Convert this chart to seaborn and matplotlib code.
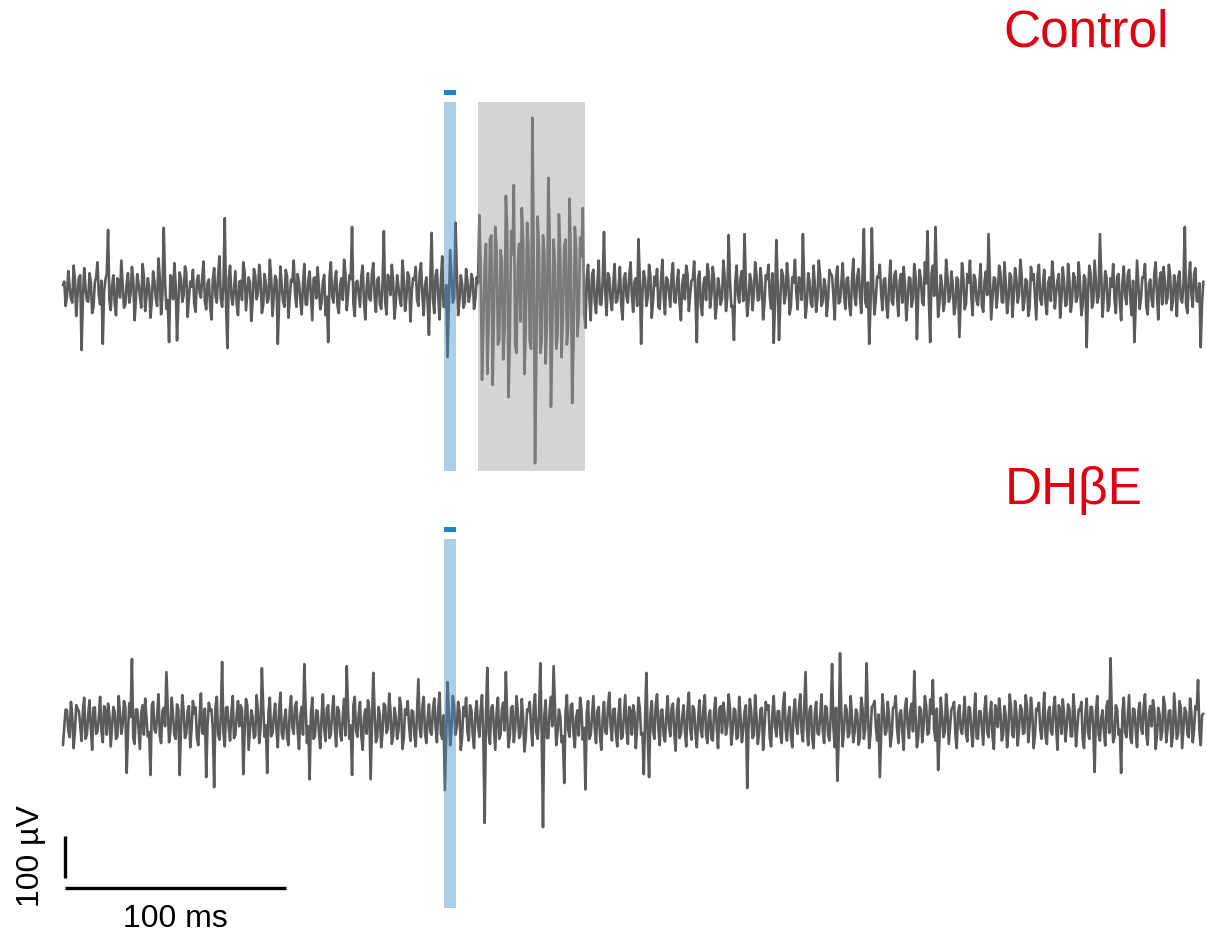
import numpy as np
import pandas as pd
import matplotlib
matplotlib.use("Agg")
import matplotlib.pyplot as plt
from matplotlib.patches import Rectangle
import seaborn as sns

# ---------------- data (µV) ----------------
# main samples (~every 1.2 ms over 516 ms)
control_uv = [
    12, -38, 45, -20, 58, -62, 30, -143, 52, -25, 40, -55, 18, 66, -34, -128, 25, 143, -48, 35,
    -60, 22, 70, -42, 15, -30, 55, -72, 38, -15, 62, -50, 28, -66, 44, -20, 75, -58, 148, -45,
    -124, 30, 64, -120, 42, -28, 56, -64, 20, 48, -52, 35, -18, 68, -46, 25, -70, 52, -30, 80,
    -40, 171, -138, 58, -35, 45, -60, 22, 66, -48, 30, -74, 50, -22, 60, -55, 38, -30, 72, -62,
    34, -128, 56, -28, 48, -66, 25, 70, -40, 18, -58, 62, -35, 44, -72, 30, 54, -46, 20, -60,
    -124, 66, -30, 45, -55, 28, 72, -48, 35, 150, -62, 22, -40, 58, -70, 40, -25, 64, -52, 30,
    -45, 140, -58, 26, 60, -68, 35, -22, 70, -50, 42, -75, 28, 55, -38, 64, -60, 30, -107, 136,
    -55, 48, -70, 80, -40, -160, 95, -30, 160, -60, 35, -42, 50, -28, 38, -45, 30, 178, -214, 60,
    -200, 120, -226, 150, -130, 95, -165, 224, -255, 140, 250, -150, 110, 195, -200, 160, -120, 410, -412, 175,
    -150, 130, -175, 267, -278, 120, -140, 180, -160, 105, -130, 217, -269, 150, -110, 125, 195, -90, 60, -72,
    48, -55, 70, -35, 138, -60, 30, -48, 62, -25, 55, -70, 40, -30, 66, -52, 28, 121, -128, 45,
    -38, 60, -66, 32, 50, -45, 72, -58, 25, -40, 64, -30, 48, -72, 36, 58, -50, 22, 68, -124,
    44, -60, 30, 62, -42, 55, -68, 28, -35, 70, -50, 131, -40, -119, 58, -30, 45, 133, -62, 38,
    -48, 66, -25, 52, -70, 35, 60, -44, -126, 119, -119, 48, -32, 64, -58, 30, 72, -46, 22, 133,
    -66, 40, -30, 58, -52, 70, -38, 26, -62, 48, 34, -70, 56, -28, 64, -45, 30, -60, 74, -36,
    50, -55, 145, -40, -128, 147, -58, 32, 60, -48, 28, -66, 70, -35, 45, -62, 38, 55, -72, 30,
    -40, 62, -117, 48, -30, 66, 140, -124, 58, 150, -64, 35, -50, 72, -28, 44, -58, 30, -112, 64,
    -46, 38, 70, -60, 25, -36, 62, -52, 44, 133, -70, 30, -42, 58, -28, 66, -55, 40, -64, 52,
    -30, 72, -48, 26, -62, 55, 38, -70, 60, -35, 48, -58, 30, 68, -44, 22, -66, 54, -38, 62,
    -52, 40, -28, 66, -60, 35, -136, 58, -42, 70, -30, 133, -64, 45, -50, 28, 62, -55, 38, -72,
    56, -34, 48, -60, -124, 70, -45, 30, 62, -58, 25, -40, 66, -70, 42, 55, -32, 60, -48, 35,
    -62, 44, -30, 150, -55, 66, -40, 52, -28, -136, 20,
]
# in-between samples (half a step later than each main sample)
control_mid_uv = [
    20, -15, 8, -30, 25, -10, 35, -22, 5, -28, 18, -40, 30, -12, 22, -5, 38, -25, 10, -32,
    28, -18, 12, -35, 40, -8, 24, -20, 15, -42, 33, -14, 6, -26, 20, -38, 30, -10, 18, -24,
    35, -22, 10, -30, 26, -12, 40, -18, 8, -34, 22, -6, 30, -28, 16, -40, 24, -14, 36, -20,
    12, -38, 28, -16, 6, -32, 20, -24, 42, -10, 18, -30, 34, -8, 26, -36, 14, -22, 30, -12,
    24, -28, 10, -40, 32, -18, 20, -6, 38, -26, 14, -34, 22, -12, 28, -20, 8, -30, 36, -16,
    30, -14, 22, -36, 12, -24, 40, -10, 26, -32, 18, -8, 34, -28, 6, -20, 38, -16, 24, -34,
    16, -30, 36, -12, 20, -26, 8, -38, 28, -18, 32, -6, 24, -22, 40, -14, 10, -32, 26, -20,
    34, -16, 22, -40, 12, -28, 30, -18, 44, -24, 14, -30, 20, -10, 26, -22, 16, 60, -90, 110,
    -80, 130, -60, 100, -120, 70, -95, 140, -110, 85, -130, 60, -75, 120, -90, 105, -140, 80, -150, 95,
    -120, 90, -70, 130, -100, 60, -110, 85, -65, 120, -90, 70, -125, 100, -60, 80, -55, 30, -20, 36,
    -28, 14, -34, 22, -10, 40, -24, 18, -30, 8, -36, 26, -16, 32, -12, 20, -38, 28, -6, 24,
    -18, 34, -26, 10, -40, 22, -14, 30, -8, 36, -28, 16, -32, 12, -22, 38, -10, 26, -20, 30,
    -36, 14, -24, 40, -12, 28, -34, 6, -20, 32, -16, 24, -38, 18, -10, 30, -26, 12, -30, 22,
    -8, 36, -22, 16, -32, 26, -14, 40, -28, 10, -20, 34, -12, 24, -36, 18, -6, 30, -24, 14,
    -30, 20, -40, 12, -18, 34, -26, 8, -22, 38, -14, 28, -32, 16, -10, 26, -36, 22, -16, 32,
    -12, 40, -28, 18, -34, 10, -20, 30, -8, 24, -38, 14, -26, 36, -16, 22, -30, 12, -24, 28,
    -20, 32, -10, 26, -36, 16, -24, 38, -14, 20, -30, 8, -28, 34, -18, 12, -40, 24, -22, 30,
    -34, 18, -16, 36, -26, 10, -38, 22, -12, 30, -20, 28, -8, 40, -30, 14, -24, 32, -18, 26,
    -10, 34, -28, 20, -40, 24, -14, 36, -22, 12, -32, 18, -26, 30, -6, 38, -20, 16, -34, 22,
    -24, 30, -18, 14, -36, 26, -10, 40, -30, 20, -16, 34, -12, 28, -38, 8, -22, 32, -28, 18,
    -14, 36, -26, 22, -32, 12, -20, 30, -40, 16, -24, 38, -10, 26, -34, 20, -18, 34, -28, 10,
    30, -22, 14, -36, 24, -12, 38, -26, 16, -30,
]

dhbe_uv = [
    -55, 30, -20, 48, -62, 40, 25, -45, 58, -30, 52, -66, 35, -22, 60, -48, 28, 44, -58, 36,
    -40, 62, -28, 50, -121, 45, 150, -52, 30, -64, 40, 56, -35, -126, 48, -25, 66, -50, 34, 119,
    -48, 58, -30, 42, -126, 64, -38, 26, -60, 50, 35, -55, 68, -28, -131, 46, 30, -155, 60, -42,
    143, -58, 36, -44, 62, -30, 50, 40, -124, 55, -66, 28, -38, 64, -50, 128, -35, -121, 58, -26,
    44, -60, 70, -40, 30, -55, 62, -28, 48, -64, 36, 138, -50, -136, 58, -34, 26, -62, 66, -45,
    40, -30, 62, -58, 28, -44, 55, 133, -40, -126, 60, -35, 48, -66, 30, 52, -136, 117, -48, 36,
    -60, 44, -26, 68, -52, 34, -40, 58, -64, 30, 50, -45, 25, -58, 102, -36, 60, -50, 42, -30,
    56, -48, 70, -40, -162, 95, -55, 62, -30, 48, -66, 36, 58, -44, 28, -62, 50, -35, 64, -240,
    129, -52, 40, -66, 58, -30, 46, 119, -60, 34, -48, 62, -38, 55, -70, 30, 48, -56, 66, -40,
    140, -250, 52, -38, 60, 133, -55, 30, -48, -145, 64, -35, 44, -60, 28, 58, -42, -160, 50, -30,
    62, -50, 36, -66, 48, -28, 70, -44, 32, -58, 55, -36, 64, -52, 26, 40, -62, 58, -30, -124,
    117, -131, 50, -40, 66, -55, 30, -46, 62, -34, 44, -68, 56, -28, 40, -58, 70, -42, 30, -60,
    52, -36, 64, -50, 28, -44, 58, -62, 38, 46, -30, 66, -54, 32, -40, 60, -48, 26, -157, 55,
    -38, 64, -52, 30, -66, 48, 40, -58, 62, -34, 26, -50, 70, -44, 36, -60, 54, -28, 66, -46,
    119, -55, 38, -62, 48, -30, 66, -50, 34, -44, 138, -60, -140, 164, -58, 40, -36, 62, -48, 30,
    -54, 58, -40, 140, -62, 36, 50, -44, -131, 66, -30, 48, -58, 34, 62, -50, 28, -66, 56, -38,
    44, 121, -60, 36, -48, 62, -30, 54, 100, -44, -114, 58, -36, 66, -52, 30, 48, -62, 40, -28,
    60, -46, 34, -58, 68, -40, 26, -54, 62, -36, 48, -64, 30, 56, -44, 38, -60, 66, -32, 50,
    -56, 40, -28, 64, -48, 58, -62, 32, 46, -40, 70, -52, 36, -30, 60, -66, 28, 54, -46, 42,
    -34, 66, -58, 30, 48, -62, 56, -40, 36, -119, 62, -44, 28, -56, 50, 152, -48, 40, -30, -121,
    58, -36, 64, -50, 30, -60, 46, -28, 66, -54, 38, 52, -64, 34, -42, 60, -48, 26, -58, 68,
    -40, 50, -62, 34, -30, 56, -48, 38, 100, -55, 20,
]
dhbe_mid_uv = [
    -10, 28, -36, 14, -22, 32, -8, 26, -40, 18, -14, 34, -28, 10, -20, 38, -30, 16, -12, 24,
    -34, 20, -6, 36, -26, 12, -38, 30, -16, 22, -30, 8, -24, 40, -18, 14, -32, 26, -10, 34,
    -22, 16, -40, 30, -12, 24, -28, 38, -14, 20, -36, 10, -26, 32, -8, 28, -18, 36, -30, 12,
    -26, 34, -14, 22, -38, 18, -10, 30, -24, 40, -20, 12, -32, 26, -16, 36, -8, 24, -34, 14,
    -18, 30, -28, 8, -36, 26, -12, 38, -22, 16, -30, 34, -10, 20, -40, 28, -24, 12, -16, 32,
    -38, 22, -12, 36, -26, 14, -32, 28, -8, 40, -20, 18, -34, 10, -28, 30, -14, 24, -36, 16,
    -24, 38, -16, 26, -32, 12, -20, 34, -40, 18, -10, 28, -30, 22, -14, 36, -26, 8, -22, 30,
    -12, 32, -28, 16, -38, 24, -18, 36, -10, 26, -34, 14, -22, 40, -30, 20, -8, 28, -36, 18,
    -26, 34, -14, 22, -40, 30, -20, 12, -32, 38, -16, 24, -28, 10, -36, 26, -12, 34, -24, 20,
    -30, 16, -38, 28, -10, 36, -22, 14, -34, 24, -18, 40, -26, 12, -32, 30, -14, 22, -40, 18,
    -16, 26, -34, 12, -24, 38, -8, 30, -28, 20, -40, 14, -18, 36, -30, 22, -12, 32, -26, 10,
    -36, 18, -22, 40, -14, 28, -32, 16, -10, 34, -26, 24, -38, 12, -20, 30, -16, 38, -28, 8,
    -20, 36, -30, 14, -40, 22, -12, 32, -26, 18, -8, 34, -22, 28, -36, 10, -18, 40, -14, 26,
    -32, 12, -24, 34, -16, 30, -38, 20, -10, 26, -28, 38, -18, 14, -34, 24, -6, 32, -22, 36,
    -14, 28, -36, 22, -26, 10, -20, 38, -30, 16, -12, 34, -40, 24, -18, 30, -28, 12, -24, 20,
    -38, 32, -16, 24, -28, 40, -10, 18, -34, 26, -22, 12, -30, 36, -14, 20, -26, 34, -8, 28,
    -22, 14, -34, 30, -12, 38, -26, 20, -18, 32, -40, 16, -24, 28, -10, 36, -30, 22, -16, 12,
    -28, 36, -20, 10, -38, 26, -14, 32, -24, 18, -34, 40, -12, 22, -30, 14, -20, 34, -36, 24,
    -16, 30, -26, 38, -8, 20, -32, 28, -18, 12, -36, 24, -22, 34, -14, 40, -28, 16, -10, 32,
    -34, 22, -12, 28, -40, 18, -24, 36, -16, 26, -30, 10, -20, 38, -26, 14, -36, 30, -18, 24,
    -24, 12, -38, 32, -20, 26, -14, 36, -28, 22, -10, 30, -34, 18, -22, 40, -16, 28, -32, 14,
    -26, 34, -12, 24, -36, 20, -18, 30, -22, 16,
]

duration_ms = 516.0
conditions = ["Control", "DHβE"]
light_on_ms = [172.4, 177.8]          # blue light pulse
response_window_ms = [188.0, 236.0]   # grey highlighted window (control only)
scale_ms = 100
scale_uv = 100

# ---------------- layout / styling ----------------
TOP_OFFSET = 1028.0
trace_color = "#5b5b5b"
label_red = "#dc0010"

sns.set_theme(style="white")
plt.rcParams["font.family"] = ["Liberation Sans", "DejaVu Sans"]

fig = plt.figure(figsize=(12.07, 9.36), dpi=100)
ax = fig.add_axes([0, 0, 1, 1])
ax.set_xlim(-28.5, 517.65)
ax.set_ylim(-509, 1718)
ax.axis("off")


def merge(main, mid):
    main = np.asarray(main, dtype=float)
    mid = np.asarray(mid, dtype=float)
    m = min(len(mid), len(main) - 1)
    main = main[: m + 1]
    full = np.empty(2 * m + 1)
    full[0::2] = main
    full[1::2] = mid[:m]
    return full


frames = []
for name, vals, mids, off in [("Control", control_uv, control_mid_uv, TOP_OFFSET),
                              ("DHβE", dhbe_uv, dhbe_mid_uv, 0.0)]:
    v = merge(vals, mids)
    t = np.linspace(0, duration_ms, len(v))
    frames.append(pd.DataFrame({"t": t, "v": v + off, "cond": name}))
df = pd.concat(frames, ignore_index=True)

for name in conditions:
    sub = df[df["cond"] == name]
    sns.lineplot(data=sub, x="t", y="v", ax=ax, color=trace_color, lw=1.9,
                 estimator=None, sort=False, legend=False, zorder=2)

for off, top, bot in [(TOP_OFFSET, 448, -431), (0.0, 436, -443)]:
    # light pulse bar
    ax.add_patch(Rectangle((light_on_ms[0], off + bot), light_on_ms[1] - light_on_ms[0],
                           top - bot, facecolor=(63/255, 142/255, 209/255), alpha=0.43,
                           edgecolor="none", zorder=3))
    # small marker above
    ax.add_patch(Rectangle((light_on_ms[0], off + top + 16), light_on_ms[1] - light_on_ms[0],
                           12, facecolor="#1a86cf", edgecolor="none", zorder=3))

# grey response window (control)
ax.add_patch(Rectangle((response_window_ms[0], TOP_OFFSET - 431),
                       response_window_ms[1] - response_window_ms[0], 448 + 431,
                       facecolor=(160/255, 160/255, 160/255), alpha=0.45,
                       edgecolor="none", zorder=3))

# scale bars
x0 = 0.9
ax.plot([x0, x0], [-270, -270 - scale_uv], color="black", lw=2.4, solid_capstyle="butt")
ax.plot([x0, x0 + scale_ms], [-395, -395], color="black", lw=2.4, solid_capstyle="butt")
ax.text(x0 + scale_ms / 2, -468, "100 ms", ha="center", va="center", fontsize=23, color="black")
ax.text(-14.5, -318, "100 µV", ha="center", va="center", rotation=90, fontsize=23, color="black")

# condition labels
ax.text(425.3, 1640, conditions[0], ha="left", va="center", fontsize=37, color=label_red)
ax.text(426.0, 550, conditions[1], ha="left", va="center", fontsize=37, color=label_red)

fig.savefig("out.png", dpi=100)
